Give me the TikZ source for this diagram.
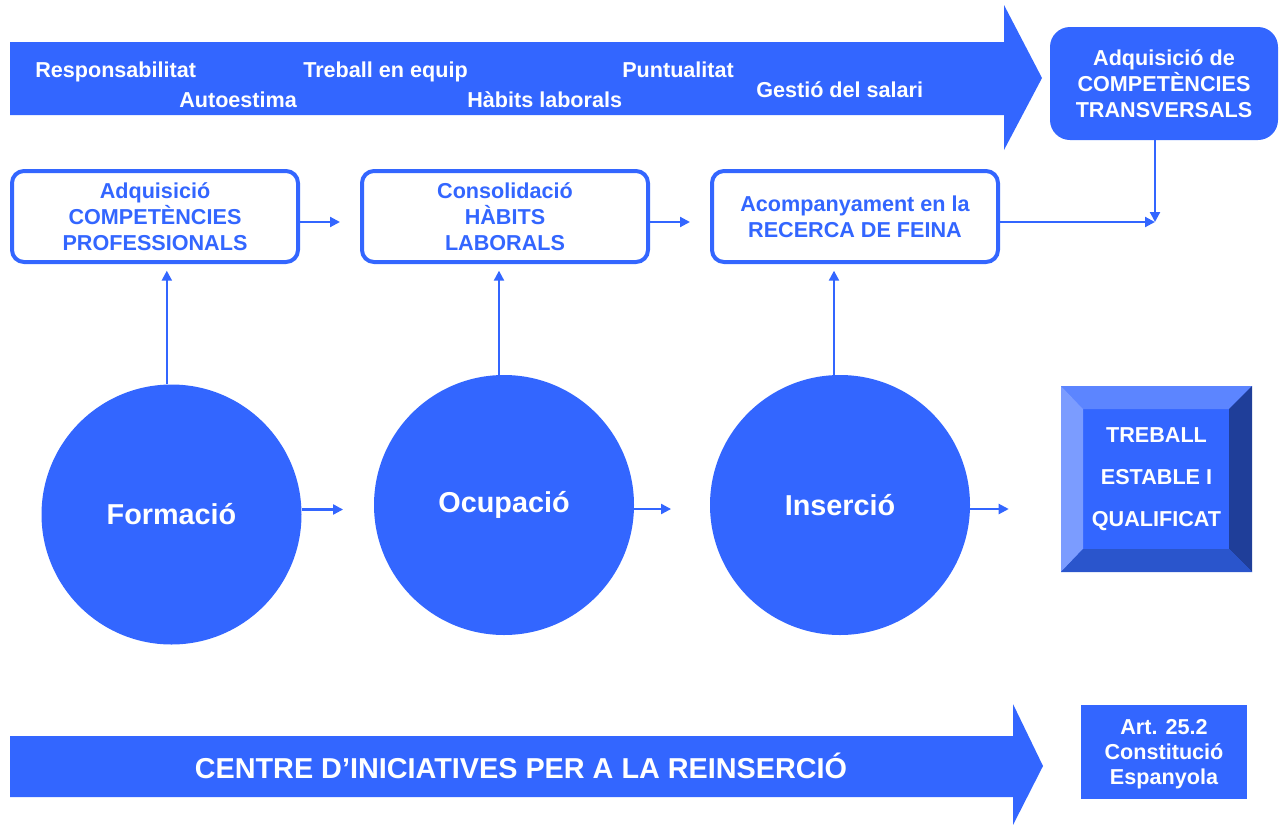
\documentclass[tikz,border=0pt]{standalone}
\usepackage{fontspec}
\setmainfont{Liberation Sans}
\usetikzlibrary{arrows.meta}
\definecolor{cblue}{RGB}{51,102,255}
\definecolor{bevtop}{RGB}{92,133,255}
\definecolor{bevleft}{RGB}{123,156,255}
\definecolor{bevright}{RGB}{31,62,153}
\definecolor{bevbot}{RGB}{42,85,204}

\begin{document}
\begin{tikzpicture}[x=0.75pt,y=-0.75pt,
  txt/.style={text=white,font=\fontsize{16.2}{19.5}\selectfont\bfseries,inner sep=0pt},
  big/.style={text=white,font=\fontsize{21.6}{26}\selectfont\bfseries},
  etapa/.style={draw=cblue,line width=3pt,rounded corners=9pt,fill=white,text=cblue,align=center,
    font=\fontsize{16.2}{19.5}\selectfont\bfseries,minimum width=214.5pt,minimum height=68.25pt,inner sep=0pt,text depth=-3pt},
  fase/.style={circle,fill=cblue,minimum size=195pt,inner sep=0pt,big},
  flow/.style={draw=cblue,line width=1.6pt,-{Triangle[length=7.5pt,width=7.5pt]}}]
\useasboundingbox (0,0) rectangle (1279,825);
\fill[cblue] (10,42) -- (1004,42) -- (1004,5) -- (1042,78) -- (1004,150) -- (1004,115) -- (10,115) -- cycle;
\node[txt,anchor=base west] (resp) at (35,77) {Responsabilitat};
\node[txt,anchor=base west] (autoest) at (179,107) {Autoestima};
\node[txt,anchor=base west] (equip) at (303,77) {Treball en equip};
\node[txt,anchor=base west] (habitslab) at (467,107) {Hàbits laborals};
\node[txt,anchor=base west] (puntual) at (622,77) {Puntualitat};
\node[txt,anchor=base west] (salari) at (756,97) {Gestió del salari};
\node[txt,fill=cblue,rounded corners=15pt,minimum width=171pt,minimum height=84.75pt,align=center,text depth=-1.5pt] (transv) at (1164,83.5) {Adquisició de\\COMPETÈNCIES\\TRANSVERSALS};
\coordinate (join) at (1155,222);
\node[etapa] (comp) at (155,216.5) {Adquisició\\COMPETÈNCIES\\PROFESSIONALS};
\node[etapa] (habits) at (505,216.5) {Consolidació\\HÀBITS\\LABORALS};
\node[etapa] (recerca) at (855,216.5) {Acompanyament en la\\RECERCA DE FEINA};
\draw[flow,shorten >=15pt] (comp.east |- join) -- (habits.west |- join);
\draw[flow,shorten >=15pt] (habits.east |- join) -- (recerca.west |- join);
\draw[flow] (recerca.east |- join) -- (join);
\draw[flow] (transv.south -| join) -- (join);
\node[fase] (form) at (171.5,514.5) {Formació};
\node[fase] (ocup) at (504,505) {Ocupació};
\node[fase] (inser) at (840,505) {Inserció};
\draw[flow,shorten >=5pt] ([xshift=-3.5pt]form.north) -- ([xshift=-3.5pt]form.north |- comp.south);
\draw[flow,shorten >=5pt] ([xshift=-3.75pt]ocup.north) -- ([xshift=-3.75pt]ocup.north |- habits.south);
\draw[flow,shorten >=5pt] ([xshift=-4.5pt]inser.north) -- ([xshift=-4.5pt]inser.north |- recerca.south);
\node[txt,fill=cblue,minimum width=143.25pt,minimum height=139.5pt,align=center,font=\fontsize{16.2}{31.5}\selectfont\bfseries] (treball) at (1156.5,479) {TREBALL\\ESTABLE I\\QUALIFICAT};
\fill[bevtop] (1061,386) -- (1252,386) -- (1229,409) -- (1083,409) -- cycle;
\fill[bevleft] (1061,386) -- (1083,409) -- (1083,549) -- (1061,572) -- cycle;
\fill[bevright] (1252,386) -- (1252,572) -- (1229,549) -- (1229,409) -- cycle;
\fill[bevbot] (1061,572) -- (1252,572) -- (1229,549) -- (1083,549) -- cycle;
\draw[flow,shorten >=23pt] ([yshift=3.75pt]form.east) -- ([yshift=3.75pt]form.east -| ocup.west);
\draw[flow,shorten >=29pt] ([yshift=-3pt]ocup.east) -- ([yshift=-3pt]ocup.east -| inser.west);
\draw[flow,shorten >=39pt] ([yshift=-3pt]inser.east) -- ([yshift=-3pt]inser.east -| treball.west);
\fill[cblue] (10,736) -- (1013,736) -- (1013,704) -- (1043,766) -- (1013,825) -- (1013,797) -- (10,797) -- cycle;
\node[big] (centre) at (521,766) {CENTRE D’INICIATIVES PER A LA REINSERCIÓ};
\node[txt,fill=cblue,minimum width=124.5pt,minimum height=70.5pt,align=center,text depth=-3pt,font=\fontsize{16.2}{18.75}\selectfont\bfseries] (art) at (1164,752) {Art. 25.2\\Constitució\\Espanyola};
\end{tikzpicture}
\end{document}
